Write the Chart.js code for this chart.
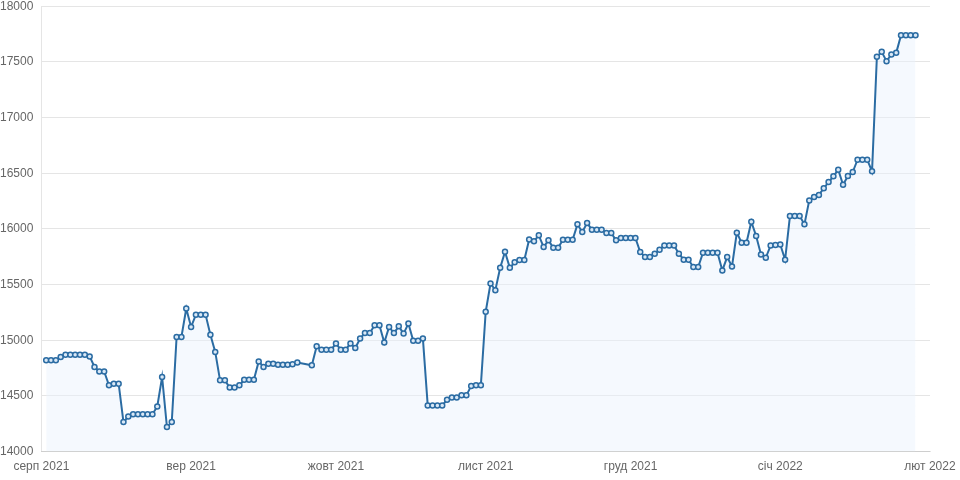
<!DOCTYPE html>
<html>
<head>
<meta charset="utf-8">
<script src="https://cdn.jsdelivr.net/npm/chart.js@4/dist/chart.umd.min.js"></script>
<style>
  html, body { margin: 0; padding: 0; background: #fff; overflow: hidden; }
  #page { width: 960px; height: 480px; position: relative; overflow: hidden; }
  #wrap { width: 968px; height: 483px; position: absolute; left: -8px; top: -9px; }
</style>
</head>
<body>
<div id="page"><div id="wrap"><canvas id="c"></canvas></div></div>
<script>
// Axis origin and month ticks
const axisStart = '2021-08-01';
const monthStarts = ['2021-08-01', '2021-09-01', '2021-10-01', '2021-11-01', '2021-12-01', '2022-01-01', '2022-02-01'];
const monthLabels = ['серп 2021', 'вер 2021', 'жовт 2021', 'лист 2021', 'груд 2021', 'січ 2022', 'лют 2022'];
const yTicks = [14000, 14500, 15000, 15500, 16000, 16500, 17000, 17500, 18000];

// Daily series starting at this date (null = no value that day)
const seriesStart = '2021-08-02';
const values = [
  14820, 14820, 14820, 14850, 14870, 14870, 14870, 14870, 14870, 14855,
  14760, 14720, 14720, 14595, 14610, 14610, 14265, 14315, 14335, 14335,
  14335, 14335, 14335, 14405, 14670, 14220, 14265, 15030, 15030, 15285,
  15120, 15230, 15230, 15230, 15050, 14895, 14640, 14640, 14575, 14575,
  14595, 14645, 14645, 14645, 14810, 14760, 14790, 14790, 14780, 14780,
  14780, 14785, 14800, null, null, 14775, 14945, 14915, 14915, 14915,
  14970, 14915, 14915, 14970, 14930, 15015, 15065, 15065, 15135, 15135,
  14980, 15120, 15065, 15125, 15060, 15150, 14995, 14995, 15015, 14415,
  14415, 14415, 14415, 14465, 14485, 14485, 14505, 14505, 14590, 14595,
  14595, 15255, 15510, 15450, 15650, 15795, 15650, 15700, 15720, 15720,
  15905, 15890, 15942, 15837, 15897, 15831, 15831, 15903, 15903, 15903,
  16041, 15972, 16052, 15993, 15993, 15993, 15963, 15963, 15897, 15918,
  15918, 15918, 15918, 15792, 15747, 15747, 15777, 15813, 15852, 15852,
  15852, 15777, 15723, 15723, 15657, 15657, 15786, 15786, 15786, 15786,
  15627, 15747, 15663, 15966, 15876, 15876, 16064, 15936, 15771, 15741,
  15852, 15855, 15860, 15723, 16115, 16115, 16115, 16041, 16256, 16286,
  16305, 16365, 16421, 16472, 16532, 16397, 16475, 16511, 16622, 16622,
  16622, 16517, 17545, 17590, 17506, 17566, 17581, 17740, 17740, 17740,
  17740
];

const DAY = 86400000;
const dayOf = s => Math.round((Date.parse(s + 'T00:00:00Z') - Date.parse(axisStart + 'T00:00:00Z')) / DAY);
const firstDay = dayOf(seriesStart);
const points = [];
values.forEach((v, i) => { if (v !== null) points.push({ x: firstDay + i, y: v }); });
const tickDays = monthStarts.map(dayOf);

new Chart(document.getElementById('c'), {
  type: 'line',
  data: {
    datasets: [{
      data: points,
      borderColor: '#2b6ca3',
      borderWidth: 2,
      backgroundColor: 'rgba(232,242,252,0.45)',
      fill: 'start',
      tension: 0,
      pointRadius: 2.5,
      pointBorderWidth: 1.5,
      pointBorderColor: '#2b6ca3',
      pointBackgroundColor: '#d9e8f6',
      spanGaps: true
    }]
  },
  options: {
    responsive: true,
    maintainAspectRatio: false,
    animation: false,
    layout: { padding: { top: 0, right: 30, left: 0, bottom: 0 } },
    plugins: { legend: { display: false }, tooltip: { enabled: false } },
    scales: {
      x: {
        type: 'linear',
        min: tickDays[0],
        max: tickDays[tickDays.length - 1],
        grid: { display: false },
        border: { display: true, color: 'rgba(0,0,0,0.1)' },
        afterBuildTicks: axis => { axis.ticks = tickDays.map(v => ({ value: v })); },
        ticks: {
          color: '#666',
          font: { size: 12 },
          padding: 0,
          maxRotation: 0,
          autoSkip: false,
          callback: v => monthLabels[tickDays.indexOf(v)]
        }
      },
      y: {
        min: yTicks[0],
        max: yTicks[yTicks.length - 1],
        afterBuildTicks: axis => { axis.ticks = yTicks.map(v => ({ value: v })); },
        grid: { color: 'rgba(0,0,0,0.1)', drawTicks: false },
        border: { display: true, color: 'rgba(0,0,0,0.1)' },
        ticks: { color: '#666', font: { size: 12 }, padding: 8, callback: v => String(v) }
      }
    }
  }
});
</script>
</body>
</html>
